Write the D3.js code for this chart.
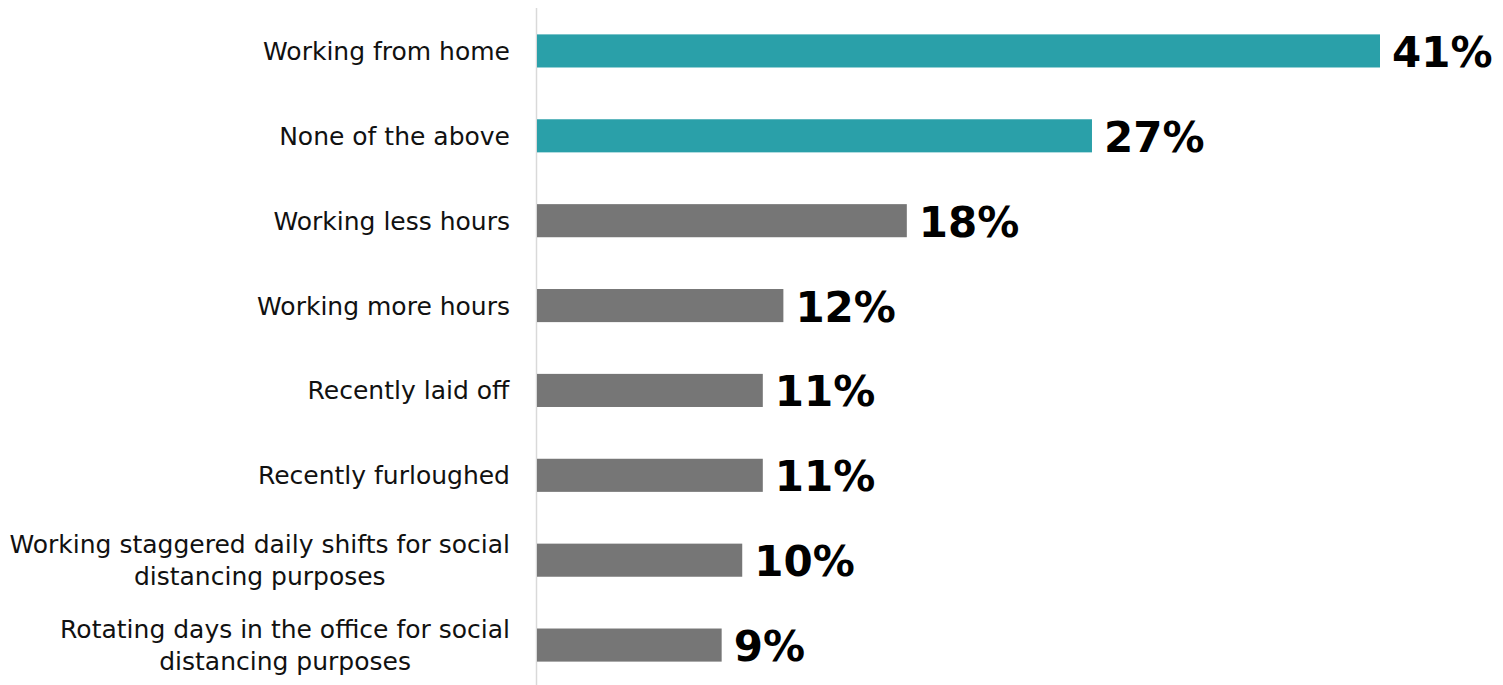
<!DOCTYPE html>
<html>
<head>
<meta charset="utf-8">
<script src="https://cdn.jsdelivr.net/npm/d3@7"></script>
<style>
  html, body { margin: 0; padding: 0; background: #fff; }
  svg { display: block; }
</style>
</head>
<body>
<svg id="chart" width="1503" height="685"></svg>
<script>
// Survey responses: current work situation
const categories = [
  "Working from home",
  "None of the above",
  "Working less hours",
  "Working more hours",
  "Recently laid off",
  "Recently furloughed",
  "Working staggered daily shifts for social distancing purposes",
  "Rotating days in the office for social distancing purposes"
];
const labelLines = [
  ["Working from home"],
  ["None of the above"],
  ["Working less hours"],
  ["Working more hours"],
  ["Recently laid off"],
  ["Recently furloughed"],
  ["Working staggered daily shifts for social", "distancing purposes"],
  ["Rotating days in the office for social", "distancing purposes"]
];
const values = [41, 27, 18, 12, 11, 11, 10, 9];
const highlighted = [true, true, false, false, false, false, false, false];

const svg = d3.select("#chart");
const axisX = 536.5;

const x = d3.scaleLinear().domain([0, 41]).range([axisX, 1380]);
const y = d3.scaleBand().domain(categories).range([8.5, 687.5]).paddingInner(0.61).paddingOuter(0.305);

// category axis line
svg.append("line")
  .attr("x1", axisX).attr("x2", axisX)
  .attr("y1", 8).attr("y2", 685)
  .attr("stroke", "#d9d9d9").attr("stroke-width", 1.5);

svg.selectAll("rect.bar")
  .data(categories)
  .join("rect")
  .attr("class", "bar")
  .attr("x", x(0) + 0.5)
  .attr("y", d => y(d))
  .attr("width", (d, i) => x(values[i]) - x(0) - 0.5)
  .attr("height", y.bandwidth())
  .attr("fill", (d, i) => highlighted[i] ? "#2aa0a9" : "#767676");

// value labels
svg.selectAll("text.val")
  .data(categories)
  .join("text")
  .attr("class", "val")
  .attr("x", (d, i) => x(values[i]) + 12)
  .attr("y", d => y(d) + y.bandwidth() / 2)
  .attr("dy", "0.38em")
  .attr("font-family", "DejaVu Sans, Verdana, sans-serif")
  .attr("font-weight", "bold")
  .attr("font-size", 42)
  .attr("fill", "#000")
  .text((d, i) => values[i] + "%");

// category labels
const lab = svg.selectAll("text.cat")
  .data(categories)
  .join("text")
  .attr("class", "cat")
  .attr("text-anchor", "middle")
  .attr("font-family", "DejaVu Sans, Verdana, sans-serif")
  .attr("font-size", 25)
  .attr("fill", "#111");

lab.each(function(d, i) {
  const lines = labelLines[i];
  const t = d3.select(this);
  const cy = y(d) + y.bandwidth() / 2;
  const lh = 32;
  const y0 = cy - (lines.length - 1) * lh / 2;
  lines.forEach((ln, k) => {
    t.append("tspan")
      .attr("x", 0)
      .attr("y", y0 + k * lh)
      .attr("dy", "0.36em")
      .text(ln);
  });
});

// right-align the block of each label, with lines centred within it
lab.each(function() {
  const bb = this.getBBox();
  const shift = 510 - (bb.x + bb.width);
  d3.select(this).attr("transform", `translate(${shift},0)`);
});
</script>
</body>
</html>
